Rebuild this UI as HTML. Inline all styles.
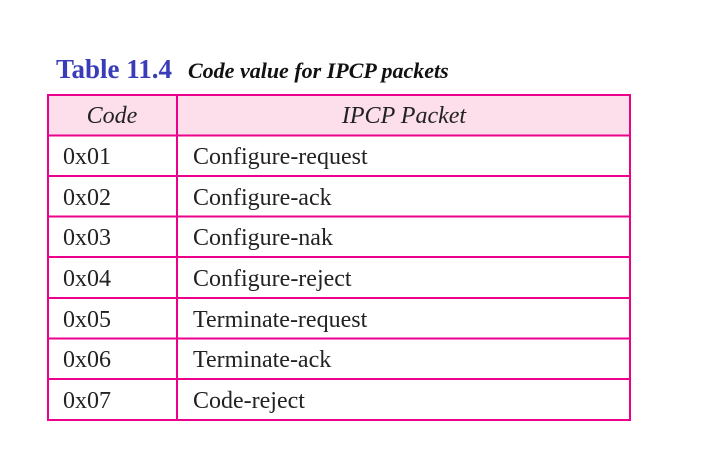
<!DOCTYPE html>
<html><head><style>
html,body{margin:0;padding:0;background:#fff;}
svg{display:block;}
text{font-family:"Liberation Serif",serif;}
</style></head><body>
<svg width="712" height="453" viewBox="0 0 712 453" xmlns="http://www.w3.org/2000/svg">
<rect x="0" y="0" width="712" height="453" fill="#fff"/>
<text x="56" y="78" font-size="27" font-weight="bold" fill="#3a3cb8">Table 11.4</text>
<text x="188" y="78" font-size="22" font-weight="bold" font-style="italic" fill="#111">Code value for IPCP packets</text>
<rect x="48" y="95.5" width="582" height="40" fill="#fcdfea"/>
<g stroke="#ec008c" stroke-width="2" fill="none">
<rect x="48" y="95" width="582" height="325"/>
<line x1="177" y1="95" x2="177" y2="420"/>
<line x1="48" y1="135.5" x2="630" y2="135.5"/>
<line x1="48" y1="176" x2="630" y2="176"/>
<line x1="48" y1="216.5" x2="630" y2="216.5"/>
<line x1="48" y1="257" x2="630" y2="257"/>
<line x1="48" y1="298" x2="630" y2="298"/>
<line x1="48" y1="338.5" x2="630" y2="338.5"/>
<line x1="48" y1="379" x2="630" y2="379"/>
</g>
<g font-size="24" fill="#222">
<text x="112" y="123" font-style="italic" text-anchor="middle">Code</text>
<text x="404" y="123" font-style="italic" text-anchor="middle">IPCP Packet</text>
<text x="63" y="164">0x01</text><text x="193" y="164">Configure-request</text>
<text x="63" y="205">0x02</text><text x="193" y="205">Configure-ack</text>
<text x="63" y="245">0x03</text><text x="193" y="245">Configure-nak</text>
<text x="63" y="286">0x04</text><text x="193" y="286">Configure-reject</text>
<text x="63" y="327">0x05</text><text x="193" y="327">Terminate-request</text>
<text x="63" y="367">0x06</text><text x="193" y="367">Terminate-ack</text>
<text x="63" y="408">0x07</text><text x="193" y="408">Code-reject</text>
</g>
</svg>
</body></html>
